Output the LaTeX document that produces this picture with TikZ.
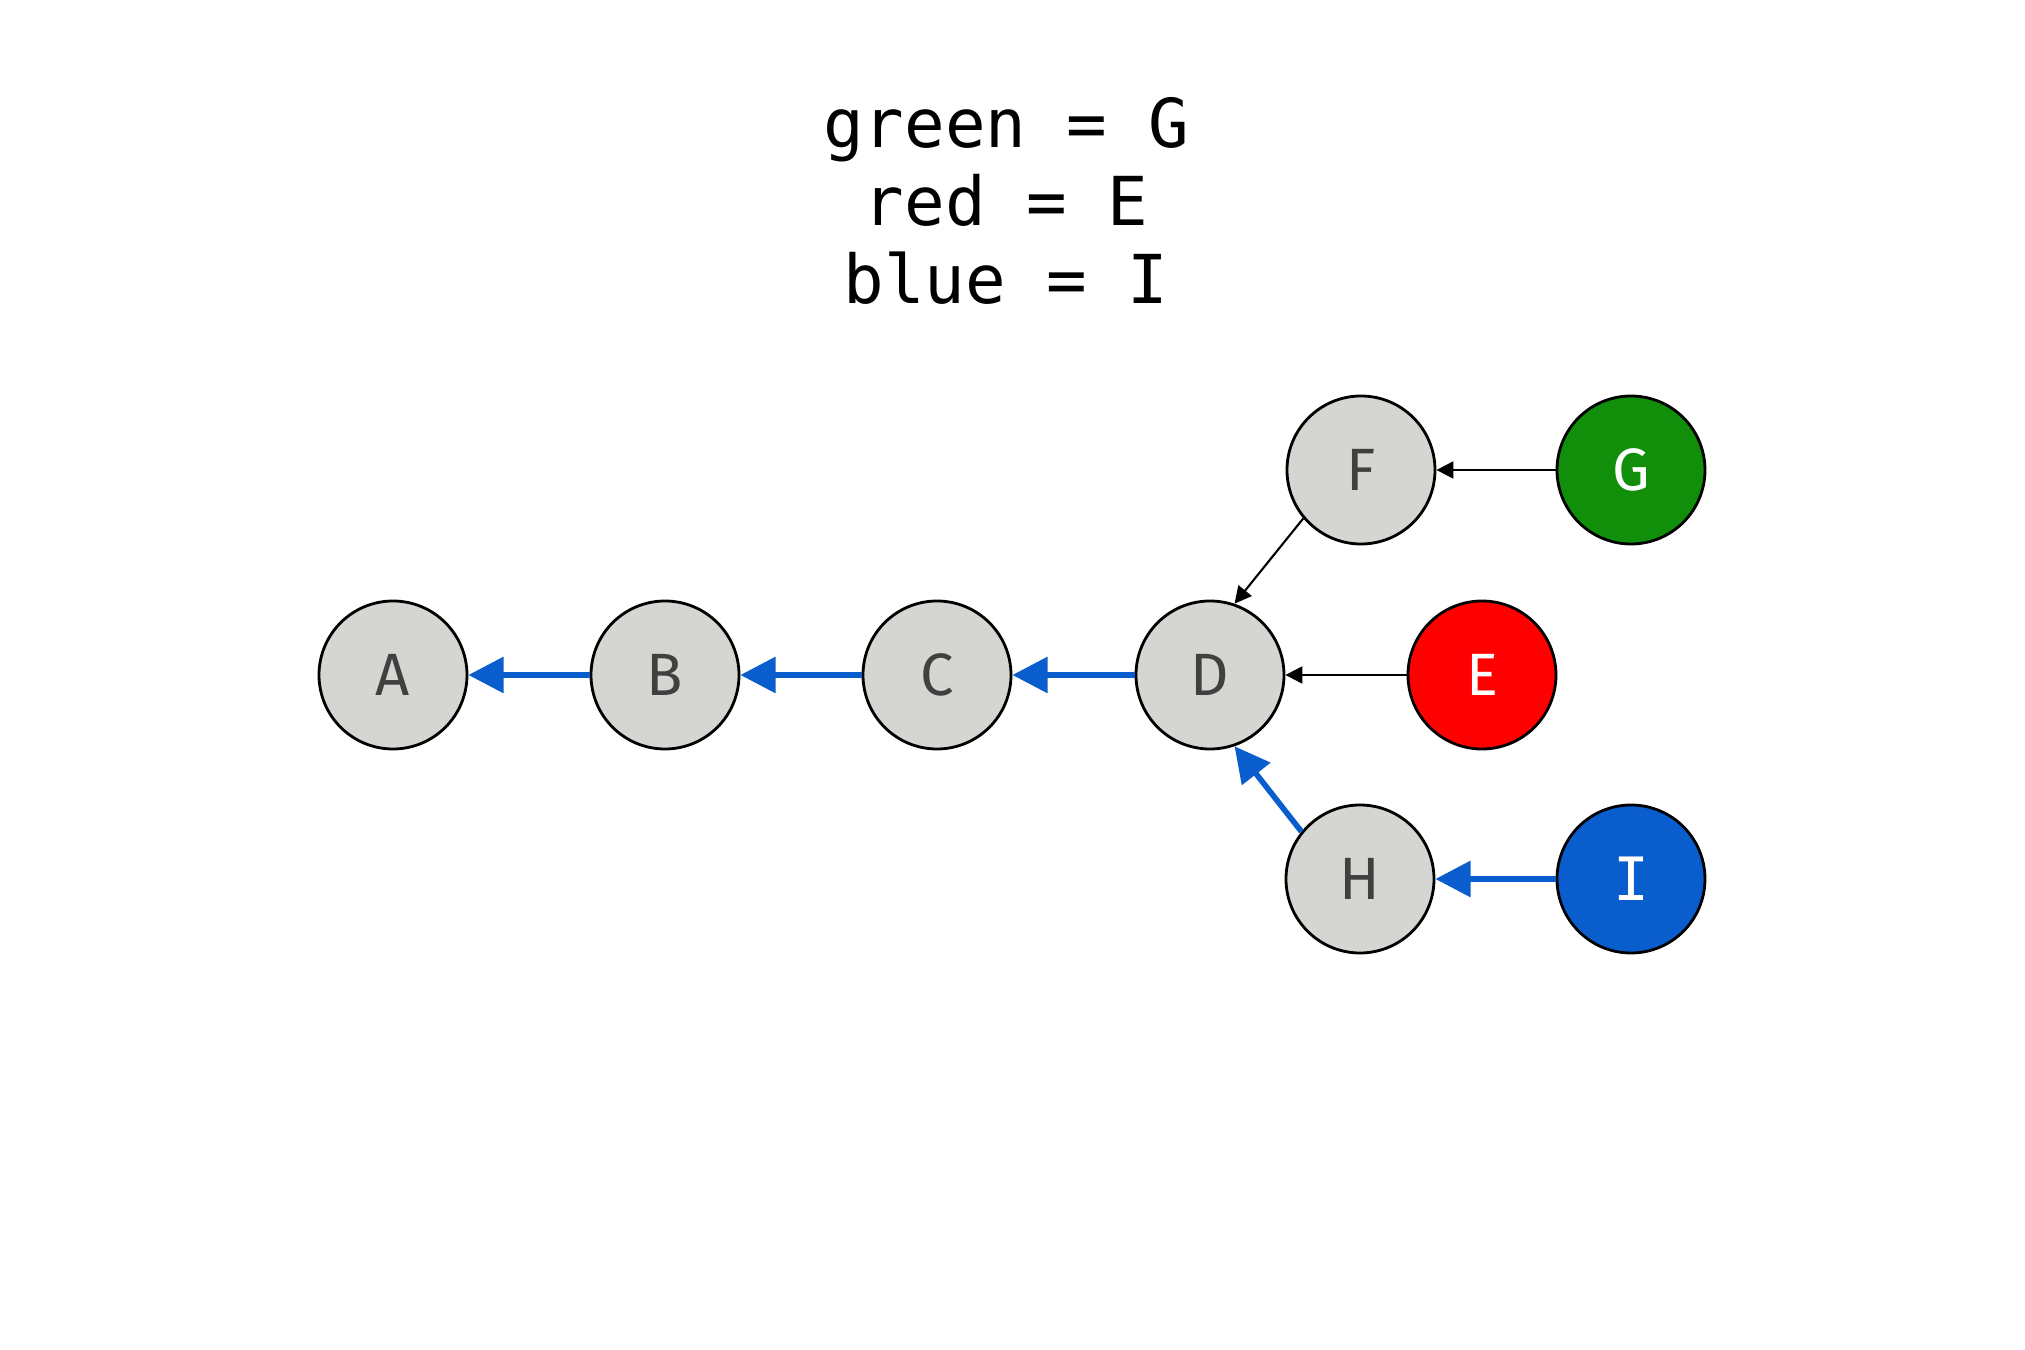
\documentclass[tikz,border=0pt]{standalone}
\usepackage{fontspec}
\setmainfont{Fira Sans}
\setmonofont{DejaVu Sans Mono}
\usetikzlibrary{arrows.meta}
\definecolor{cgray}{HTML}{D5D6D1}
\definecolor{cgreen}{HTML}{118E0A}
\definecolor{cred}{HTML}{FF0000}
\definecolor{cblue}{HTML}{0A5DCC}
\definecolor{ctext}{HTML}{404040}
\begin{document}
\begin{tikzpicture}
[n/.style={circle,draw,line width=0.8pt,inner sep=0pt,minimum size=1.48cm,font=\fontsize{17}{17}\selectfont},
 g/.style={n,fill=cgray,text=ctext}, k/.style={n,text=white},
 bl/.style={draw=cblue,line width=1.6pt,-{Triangle[length=10pt,width=10pt]}},
 th/.style={draw=black,line width=0.6pt,-{Triangle[length=4.8pt,width=4.8pt]}}]
\useasboundingbox (0,0) rectangle (20.25,13.5);
\node(title) at (10.06,11.49)[align=center,font=\ttfamily\fontsize{19.2}{22.3}\selectfont]{green = G\\red = E\\blue = I};
\node(a) at (3.93,6.75)[g]{A};\node(b) at (6.65,6.75)[g]{B};\node(c) at (9.37,6.75)[g]{C};
\node(d) at (12.10,6.75)[g]{D};\node(e) at (14.82,6.75)[k,fill=cred]{E};
\node(f) at (13.61,8.80)[g]{F};\node(gg) at (16.31,8.80)[k,fill=cgreen]{G};
\node(h) at (13.60,4.71)[g]{H};\node(i) at (16.31,4.71)[k,fill=cblue]{\ttfamily I};
\draw[bl](b)--(a);\draw[bl](c)--(b);\draw[bl](d)--(c);\draw[bl](h.141)--(d.-71);\draw[bl](i)--(h);
\draw[th](e)--(d);\draw[th](f.220)--(d.71);\draw[th](gg)--(f);
\end{tikzpicture}
\end{document}
